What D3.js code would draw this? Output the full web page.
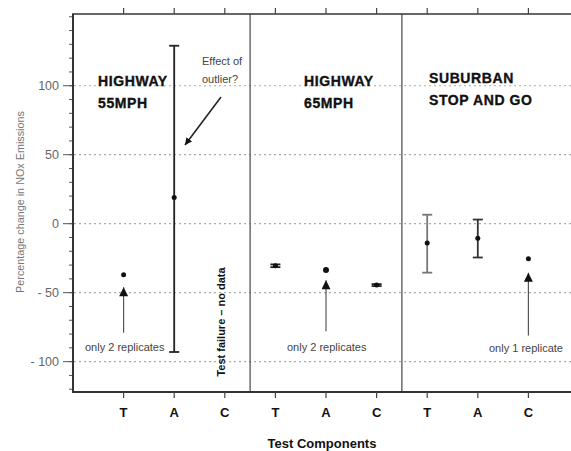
<!DOCTYPE html>
<html><head><meta charset="utf-8">
<script src="https://cdn.jsdelivr.net/npm/d3@7"></script>
<style>body{margin:0;background:#fff}svg{display:block}</style>
</head><body>
<svg id="c" width="571" height="451"></svg>
<script>
const categories = ["T","A","C","T","A","C","T","A","C"];
const means  = [-37, 19, null, -30.5, -33.5, -44.5, -14, -10.5, -25.5];
const upper  = [null, 129, null, -29.5, null, -43.8, 6.5, 3, null];
const lower  = [null, -93, null, -31.5, null, -45.2, -35.5, -24.5, null];
const yTicks = [100, 50, 0, -50, -100];
const groups = [["HIGHWAY","55MPH"],["HIGHWAY","65MPH"],["SUBURBAN","STOP AND GO"]];
const separators = [3.5, 6.5];

const svg = d3.select("#c");
const x = d3.scaleLinear().domain([0, 10]).range([73, 579]);
const y = d3.scaleLinear().domain([-122, 152]).range([392, 14]);
const W = 571;

// gridlines
svg.append("g").selectAll("line").data(yTicks).join("line")
  .attr("x1", 74).attr("x2", W).attr("y1", d => y(d)).attr("y2", d => y(d))
  .attr("stroke", "#aaa").attr("stroke-width", 1.2).attr("stroke-dasharray", "2,3");

// separators
svg.append("g").selectAll("line").data(separators).join("line")
  .attr("x1", d => x(d)).attr("x2", d => x(d)).attr("y1", y(152)).attr("y2", y(-122))
  .attr("stroke", "#555").attr("stroke-width", 1.3);

// axes
const minor = d3.range(-120, 151, 10);
const gy = svg.append("g");
gy.selectAll("line.mn").data(minor).join("line").attr("class","mn")
  .attr("x1", 69).attr("x2", 73).attr("y1", d => y(d)).attr("y2", d => y(d))
  .attr("stroke", "#555").attr("stroke-width", 1);
gy.selectAll("line.mj").data(yTicks).join("line").attr("class","mj")
  .attr("x1", 63).attr("x2", 73).attr("y1", d => y(d)).attr("y2", d => y(d))
  .attr("stroke", "#555").attr("stroke-width", 1);
gy.selectAll("text").data(yTicks).join("text")
  .attr("x", 59).attr("y", d => y(d)).attr("dy", "0.36em")
  .attr("text-anchor", "end").attr("fill", "#666")
  .style("font", "12.5px 'Liberation Sans', Arial, sans-serif")
  .text(d => d < 0 ? "- " + Math.abs(d) : d);
gy.append("line").attr("x1", 73).attr("x2", 73).attr("y1", y(152)).attr("y2", y(-122))
  .attr("stroke", "#333").attr("stroke-width", 2);

// top and bottom lines with ticks
const idx = d3.range(categories.length);
svg.append("line").attr("x1", 72).attr("x2", W).attr("y1", y(152)).attr("y2", y(152))
  .attr("stroke", "#333").attr("stroke-width", 1.5);
svg.append("line").attr("x1", 72).attr("x2", W).attr("y1", y(-122)).attr("y2", y(-122))
  .attr("stroke", "#333").attr("stroke-width", 2);
svg.append("g").selectAll("line").data(idx).join("line")
  .attr("x1", i => x(i + 1)).attr("x2", i => x(i + 1)).attr("y1", y(152) - 6).attr("y2", y(152))
  .attr("stroke", "#444").attr("stroke-width", 1.2);
svg.append("g").selectAll("line").data(idx).join("line")
  .attr("x1", i => x(i + 1)).attr("x2", i => x(i + 1)).attr("y1", y(-122)).attr("y2", y(-122) + 6)
  .attr("stroke", "#444").attr("stroke-width", 1.2);
svg.append("g").selectAll("text").data(idx).join("text")
  .attr("x", i => x(i + 1)).attr("y", 417).attr("text-anchor", "middle").attr("fill", "#111")
  .style("font", "bold 13px 'Liberation Sans', Arial, sans-serif")
  .text(i => categories[i]);

svg.append("text").attr("x", 322).attr("y", 448).attr("text-anchor", "middle").attr("fill", "#111")
  .style("font", "bold 13px 'Liberation Sans', Arial, sans-serif").text("Test Components");
svg.append("text").attr("transform", "translate(24,202) rotate(-90)").attr("text-anchor", "middle")
  .attr("fill", "#777").style("font", "10.8px 'Liberation Sans', Arial, sans-serif")
  .text("Percentage change in NOx Emissions");

// group titles
const titlePos = [[98, 86], [304, 86], [429, 83]];
groups.forEach((g, k) => {
  const t = svg.append("text").attr("fill", "#111").attr("stroke", "#111").attr("stroke-width", 0.35)
    .style("font", "bold 14px 'Liberation Sans', Arial, sans-serif").style("letter-spacing", "0.6px");
  g.forEach((line, j) => t.append("tspan").attr("x", titlePos[k][0]).attr("y", titlePos[k][1] + j * 21.5).text(line));
});

// error bars
const ebColor = ["#222", "#222", "#222", "#222", "#222", "#222", "#777", "#333", "#222"];
idx.filter(i => upper[i] !== null).forEach(i => {
  const g = svg.append("g").attr("stroke", ebColor[i]).attr("stroke-width", 1.8);
  const cx = x(i + 1), hw = 5;
  g.append("line").attr("x1", cx).attr("x2", cx).attr("y1", y(upper[i])).attr("y2", y(lower[i]));
  g.append("line").attr("x1", cx - hw).attr("x2", cx + hw).attr("y1", y(upper[i])).attr("y2", y(upper[i]));
  g.append("line").attr("x1", cx - hw).attr("x2", cx + hw).attr("y1", y(lower[i])).attr("y2", y(lower[i]));
});
// points
svg.append("g").selectAll("circle").data(idx.filter(i => means[i] !== null)).join("circle")
  .attr("cx", i => x(i + 1)).attr("cy", i => y(means[i]))
  .attr("r", i => i === 4 ? 3 : 2.5).attr("fill", "#111");

// annotations
const defs = svg.append("defs");
defs.append("marker").attr("id", "ah").attr("viewBox", "0 0 10 10").attr("refX", 10).attr("refY", 5)
  .attr("markerWidth", 7).attr("markerHeight", 7).attr("markerUnits", "userSpaceOnUse").attr("orient", "auto")
  .append("path").attr("d", "M0,0 L10,5 L0,10 Z").attr("fill", "#111");
defs.append("marker").attr("id", "ah2").attr("viewBox", "0 0 10 10").attr("refX", 10).attr("refY", 5)
  .attr("markerWidth", 12).attr("markerHeight", 9).attr("markerUnits", "userSpaceOnUse").attr("orient", "auto")
  .append("path").attr("d", "M0,0 L10,5 L0,10 Z").attr("fill", "#111");

const arrows = [
  {i: 0, y1: -79, y2: -46},
  {i: 4, y1: -78, y2: -41},
  {i: 8, y1: -81, y2: -35.5}
];
arrows.forEach(a => {
  svg.append("line").attr("x1", x(a.i + 1)).attr("x2", x(a.i + 1))
    .attr("y1", y(a.y1)).attr("y2", y(a.y2))
    .attr("stroke", "#555").attr("stroke-width", 1.2).attr("marker-end", "url(#ah2)");
});
svg.append("line").attr("x1", 221).attr("y1", 97).attr("x2", 185).attr("y2", 145)
  .attr("stroke", "#222").attr("stroke-width", 1.5).attr("marker-end", "url(#ah)");

const noteFont = "11px 'Liberation Sans', Arial, sans-serif";
[["only 2 replicates", 85, 351], ["only 2 replicates", 287, 351], ["only 1 replicate", 489, 352],
 ["Effect of", 202, 65], ["outlier?", 202, 83]].forEach(n => {
  svg.append("text").attr("x", n[1]).attr("y", n[2]).attr("fill", "#444")
    .style("font", noteFont).text(n[0]);
});
svg.append("text").attr("transform", "translate(225,322) rotate(-90)").attr("text-anchor", "middle")
  .attr("fill", "#111").style("font", "bold 11px 'Liberation Sans', Arial, sans-serif")
  .text("Test failure – no data");
</script>
</body></html>
